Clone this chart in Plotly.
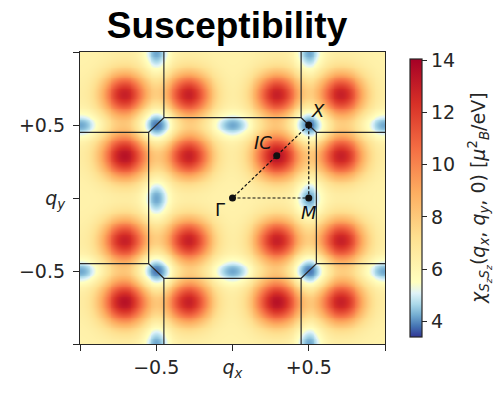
import numpy as np
import plotly.graph_objects as go

# --- susceptibility landscape: features inside one reciprocal-lattice period ---
PEAK_X = [-0.29, 0.29, -0.29, 0.29]
PEAK_Y = [-0.29, -0.29, 0.29, 0.29]
PEAK_HEIGHT = [6.7, 6.7, 6.7, 7.2]
PEAK_SIGMA = [0.105, 0.105, 0.105, 0.11]

DIP_X = [0.5, 0.5, 0.0]
DIP_Y = [0.5, 0.0, 0.5]
DIP_DEPTH = [2.9, 2.1, 2.1]
DIP_SIGMA_X = [0.085, 0.058, 0.1]
DIP_SIGMA_Y = [0.085, 0.1, 0.058]

BACKGROUND = 6.2
PERIOD = 1.0

# colour scale limits and diverging centre
Z_MIN, Z_MAX, Z_CENTER = 3.4, 14.05, 5.5
CBAR_TICKS = [4, 6, 8, 10, 12, 14]

# high-symmetry points
PT_NAMES = ["Γ", "M", "X", "IC"]
PT_X = [0.0, 0.5, 0.5, 0.29]
PT_Y = [0.0, 0.0, 0.5, 0.29]

# Brillouin-zone outline (octagon half-widths)
BZ_IN, BZ_OUT = 0.45, 0.55

AXIS_TICKS = [-1, -0.5, 0, 0.5, 1]
X_TICKTEXT = ["", "−0.5", "<i>q<sub>x</sub></i>", "+0.5", ""]
Y_TICKTEXT = ["", "−0.5", "<i>q<sub>y</sub></i>", "+0.5", ""]

# --- build the periodic field ---
q = np.linspace(-1, 1, 321)
QX, QY = np.meshgrid(q, q)
Z = np.full_like(QX, BACKGROUND)
shifts = [-2, -1, 0, 1, 2]
for n in shifts:
    for m in shifts:
        for px, py, h, s in zip(PEAK_X, PEAK_Y, PEAK_HEIGHT, PEAK_SIGMA):
            r2 = (QX - px - n * PERIOD) ** 2 + (QY - py - m * PERIOD) ** 2
            Z += h * np.exp(-0.5 * r2 / s**2)
        for dx, dy, d, sx, sy in zip(DIP_X, DIP_Y, DIP_DEPTH, DIP_SIGMA_X, DIP_SIGMA_Y):
            e = ((QX - dx - n * PERIOD) / sx) ** 2 + ((QY - dy - m * PERIOD) / sy) ** 2
            Z -= d * np.exp(-0.5 * e)

# --- RdYlBu_r with a two-slope normalisation around Z_CENTER ---
rdylbu_r = ["#313695", "#4575b4", "#74add1", "#abd9e9", "#e0f3f8", "#ffffbf",
            "#fee090", "#fdae61", "#f46d43", "#d73027", "#a50026"]
colorscale = []
for i, c in enumerate(rdylbu_r):
    s = i / 10
    if s <= 0.5:
        v = Z_MIN + (s / 0.5) * (Z_CENTER - Z_MIN)
    else:
        v = Z_CENTER + ((s - 0.5) / 0.5) * (Z_MAX - Z_CENTER)
    colorscale.append([(v - Z_MIN) / (Z_MAX - Z_MIN), c])

TXT = "#262626"
FONT = "DejaVu Sans"

fig = go.Figure()
fig.add_trace(go.Heatmap(
    x=q, y=q, z=Z, zmin=Z_MIN, zmax=Z_MAX, colorscale=colorscale, zsmooth="best",
    colorbar=dict(
        tickvals=CBAR_TICKS, ticks="outside", ticklen=5, tickwidth=1.2, tickcolor=TXT,
        tickfont=dict(family=FONT, size=19, color=TXT),
        thickness=12, len=278, lenmode="pixels", x=1.082, xanchor="left",
        y=0.5, yanchor="middle", xpad=0, ypad=0,
        outlinewidth=1.2, outlinecolor=TXT,
    ),
    hoverinfo="skip",
))

# zone boundary: octagon plus stubs to the frame
oct_x = [-BZ_IN, BZ_IN, BZ_OUT, BZ_OUT, BZ_IN, -BZ_IN, -BZ_OUT, -BZ_OUT, -BZ_IN]
oct_y = [BZ_OUT, BZ_OUT, BZ_IN, -BZ_IN, -BZ_OUT, -BZ_OUT, -BZ_IN, BZ_IN, BZ_OUT]
line_style = dict(color="#2a2a2a", width=1.2)
fig.add_trace(go.Scatter(x=oct_x, y=oct_y, mode="lines", line=line_style, hoverinfo="skip"))
stubs = [
    ([-BZ_IN, -BZ_IN], [BZ_OUT, 1]), ([BZ_IN, BZ_IN], [BZ_OUT, 1]),
    ([-BZ_IN, -BZ_IN], [-BZ_OUT, -1]), ([BZ_IN, BZ_IN], [-BZ_OUT, -1]),
    ([-BZ_OUT, -1], [BZ_IN, BZ_IN]), ([BZ_OUT, 1], [BZ_IN, BZ_IN]),
    ([-BZ_OUT, -1], [-BZ_IN, -BZ_IN]), ([BZ_OUT, 1], [-BZ_IN, -BZ_IN]),
]
for sx, sy in stubs:
    fig.add_trace(go.Scatter(x=sx, y=sy, mode="lines", line=line_style, hoverinfo="skip"))

# high-symmetry path Γ-M-X-Γ
path = [0, 1, 2, 0]
fig.add_trace(go.Scatter(
    x=[PT_X[i] for i in path], y=[PT_Y[i] for i in path], mode="lines",
    line=dict(color="#111", width=1.2, dash="3px,2px"), hoverinfo="skip"))
fig.add_trace(go.Scatter(
    x=PT_X, y=PT_Y, mode="markers", marker=dict(color="#111", size=7), hoverinfo="skip"))

label_text = ["Γ", "<i>M</i>", "<i>X</i>", "<i>IC</i>"]
label_dx = [-0.08, 0.0, 0.06, -0.09]
label_dy = [-0.08, -0.1, 0.1, 0.09]
for t, x0, y0, dx, dy in zip(label_text, PT_X, PT_Y, label_dx, label_dy):
    fig.add_annotation(x=x0 + dx, y=y0 + dy, text=t, showarrow=False,
                       font=dict(family=FONT, size=18, color="#111"))

# colour-bar title
fig.add_annotation(
    xref="paper", yref="paper", x=(479 - 80) / 305, y=0.5, xanchor="center",
    yanchor="middle", textangle=-90,
    text="<i>χ</i><sub><i>S<sub>z</sub>S<sub>z</sub></i></sub>(<i>q<sub>x</sub></i>, <i>q<sub>y</sub></i>, 0) [<i>μ</i><sup>2</sup><sub><i>B</i></sub>/eV]",
    showarrow=False, font=dict(family=FONT, size=19, color=TXT))

axis_common = dict(
    range=[-1, 1], tickvals=AXIS_TICKS, showgrid=False, zeroline=False,
    ticks="outside", ticklen=6, tickwidth=1.2, tickcolor=TXT,
    showline=True, linecolor=TXT, linewidth=1.2, mirror=True,
    tickfont=dict(family=FONT, size=19, color=TXT),
)
fig.update_xaxes(**axis_common, ticktext=X_TICKTEXT)
fig.update_yaxes(**axis_common, ticktext=Y_TICKTEXT, ticklabelstandoff=4)

fig.update_layout(
    width=494, height=393, showlegend=False,
    margin=dict(l=80, r=109, t=52, b=35),
    paper_bgcolor="white", plot_bgcolor="white",
    title=dict(text="<b>Susceptibility</b>", x=227 / 494, xanchor="center",
               y=1 - 25 / 393, yanchor="middle",
               font=dict(family="Liberation Sans", size=37, color="black")),
)

fig.write_html("out.html")
